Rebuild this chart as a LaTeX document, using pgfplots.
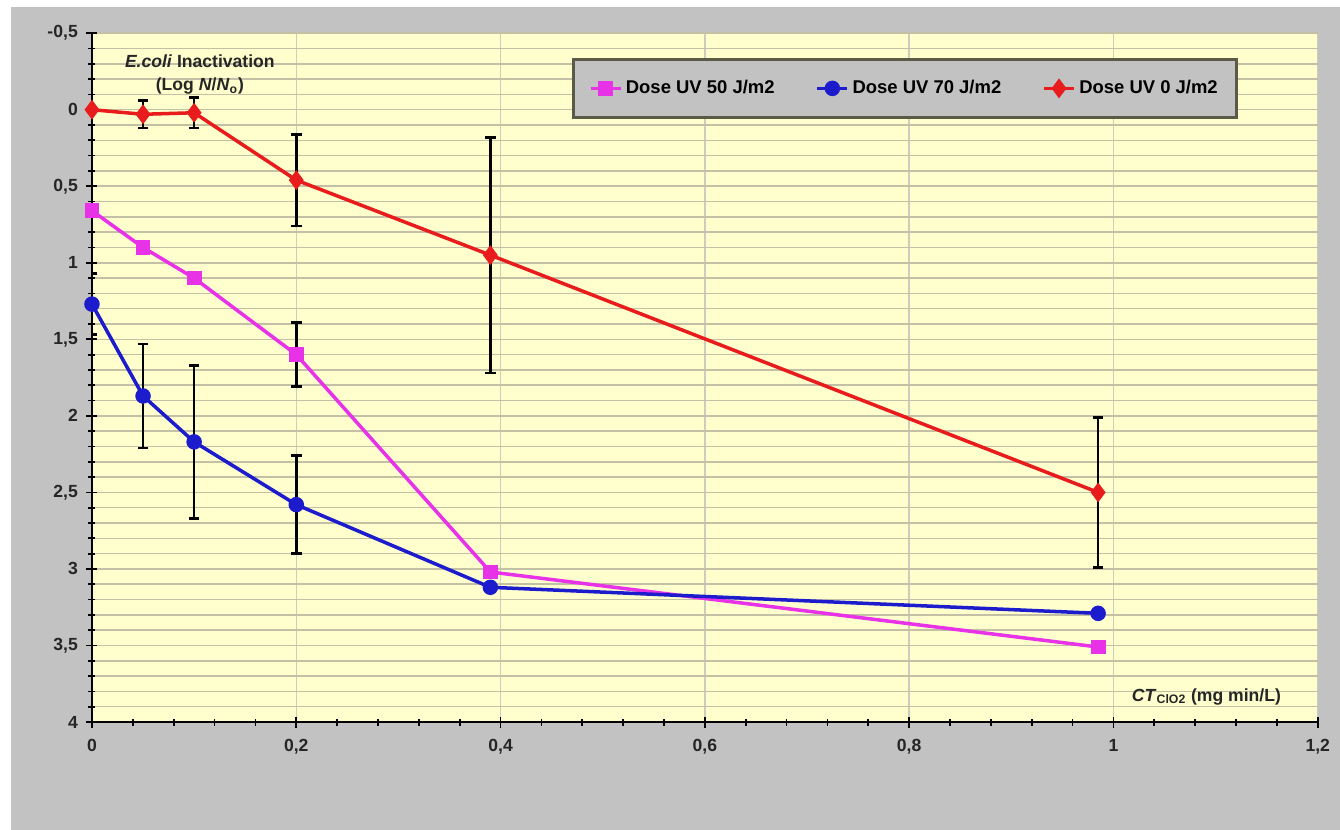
\documentclass[border=0pt]{standalone}
\usepackage{pgfplots}
\pgfplotsset{compat=1.18}
\usepackage{fontspec}
\setmainfont{Liberation Sans}
\definecolor{bgyellow}{RGB}{255,255,206}
\definecolor{outgray}{RGB}{194,194,194}
\definecolor{gridc}{RGB}{196,192,165}
\definecolor{vgridc}{RGB}{205,205,190}
\definecolor{cred}{RGB}{232,28,28}
\definecolor{cmag}{RGB}{232,50,232}
\definecolor{cblue}{RGB}{28,28,205}
\definecolor{legborder}{RGB}{90,90,70}
\begin{document}
\begin{tikzpicture}[x=0.02cm,y=0.02cm]
\fill[white] (0,0) rectangle (1340,830);
\fill[outgray] (11,0) rectangle (1340,823);
\begin{axis}[
  at={(1.84cm,2.16cm)}, anchor=south west,
  scale only axis, width=24.52cm, height=13.78cm,
  xmin=0, xmax=1.2, ymin=-0.5, ymax=4, y dir=reverse,
  axis background/.style={fill=bgyellow},
  xtick={0,0.2,0.4,0.6,0.8,1,1.2},
  ytick={-0.5,0,0.5,1,1.5,2,2.5,3,3.5,4},
  minor x tick num=4, minor y tick num=4,
  xmajorgrids, ymajorgrids, yminorgrids,
  x grid style={vgridc, line width=0.8pt},
  y grid style={gridc, line width=0.9pt},
  axis x line*=bottom, axis y line*=left,
  axis line style={black, line width=1.3pt, -},
  tick style={black, line width=1pt},
  major tick length=0.22cm, minor tick length=0.14cm,
  tick align=center,
  /pgf/number format/.cd, use comma, fixed, assume math mode=true,
  /pgfplots/.cd,
  tick label style={font=\bfseries\fontsize{10}{12}\selectfont, text=black!85},
  xticklabel style={yshift=-0.12cm},
  yticklabel style={xshift=-0.05cm},
  legend style={at={(0.392,0.964)}, anchor=north west, fill=outgray,
    draw=legborder, line width=1.6pt, legend columns=3,
    font=\bfseries\fontsize{10.5}{12}\selectfont, inner xsep=0.3cm, inner ysep=0.35cm,
    /tikz/every even column/.append style={column sep=0.75cm}},
  legend cell align=left,
]
\addplot[cmag, line width=2pt, mark=square*, mark size=3.2pt, mark options={solid, fill=cmag},
  error bars/.cd, y dir=both, y explicit,
  error bar style={black, line width=1.5pt},
  error mark options={rotate=90, black, mark size=3pt, line width=1.5pt}]
  coordinates {
  (0,0.66) +- (0,0.03)
  (0.05,0.90) +- (0,0.03)
  (0.1,1.10) +- (0,0.03)
  (0.2,1.60) +- (0,0.21)
  (0.39,3.02) +- (0,0.02)
  (0.985,3.51) +- (0,0.03)
  };
\addlegendentry{Dose UV 50 J/m2}
\addplot[cblue, line width=2pt, mark=*, mark size=3.4pt, mark options={solid, fill=cblue},
  error bars/.cd, y dir=both, y explicit,
  error bar style={black, line width=1.5pt},
  error mark options={rotate=90, black, mark size=3pt, line width=1.5pt}]
  coordinates {
  (0,1.27) +- (0,0.20)
  (0.05,1.87) +- (0,0.34)
  (0.1,2.17) +- (0,0.50)
  (0.2,2.58) +- (0,0.32)
  (0.39,3.12) +- (0,0.02)
  (0.985,3.29) +- (0,0.02)
  };
\addlegendentry{Dose UV 70 J/m2}
\addplot[cred, line width=2pt, mark=diamond*, mark size=4pt, mark options={solid, fill=cred},
  error bars/.cd, y dir=both, y explicit,
  error bar style={black, line width=1.5pt},
  error mark options={rotate=90, black, mark size=3pt, line width=1.5pt}]
  coordinates {
  (0,0.0) +- (0,0.0)
  (0.05,0.03) +- (0,0.09)
  (0.1,0.02) +- (0,0.10)
  (0.2,0.46) +- (0,0.30)
  (0.39,0.95) +- (0,0.77)
  (0.985,2.50) +- (0,0.49)
  };
\addlegendentry{Dose UV 0 J/m2}
\node[align=center, font=\bfseries\fontsize{10}{13.5}\selectfont, text=black!85]
  at (axis description cs:0.088,0.94) {\textit{E.coli} Inactivation\\(Log \textit{N}/\textit{N}\textsubscript{o})};
\node[anchor=east, font=\bfseries\fontsize{10}{12}\selectfont, text=black!85]
  at (axis description cs:0.975,0.037) {\textit{CT}\textsubscript{ClO2} (mg min/L)};
\end{axis}
\end{tikzpicture}
\end{document}
